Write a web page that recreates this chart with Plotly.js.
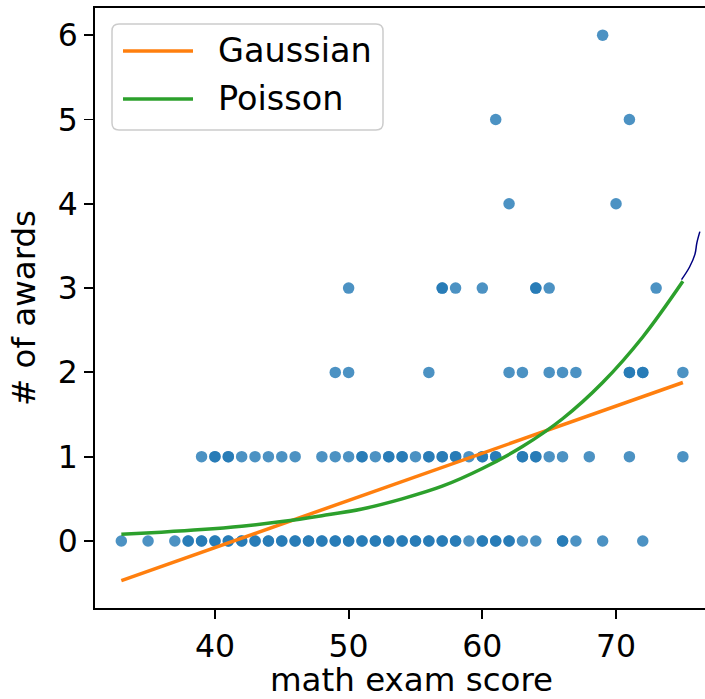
<!DOCTYPE html>
<html>
<head>
<meta charset="utf-8">
<script src="https://cdn.plot.ly/plotly-3.0.1.min.js"></script>
<style>
html, body { margin: 0; padding: 0; overflow: hidden; background: #fff; }
#chart { width: 740px; height: 699px; }
</style>
</head>
<body>
<div id="chart"></div>
<script>
// Scatter data: math exam score vs number of awards (duplicates = overlapping points)
const mathScore = [
  33, 35, 37, 38, 38, 39, 39, 40, 40, 41, 41, 42, 42, 43, 43, 44, 44, 45, 45, 46, 46, 47, 47, 48, 48,
  49, 49, 50, 50, 51, 51, 52, 52, 53, 53, 54, 54, 55, 55, 56, 56, 57, 57, 58, 58, 59, 60, 60, 61, 61,
  62, 62, 63, 64, 66, 66, 67, 69, 72,
  39, 40, 40, 41, 41, 42, 43, 44, 45, 46, 48, 49, 50, 51, 51, 52, 53, 53, 54, 54, 55, 56, 56, 57, 57,
  58, 58, 59, 60, 60, 61, 61, 63, 63, 64, 64, 65, 66, 68, 71, 75,
  49, 50, 56, 62, 63, 65, 66, 67, 71, 71, 72, 72, 75,
  50, 57, 57, 58, 60, 64, 64, 65, 73,
  62, 70,
  61, 71,
  69
];
const numAwards = [
  0, 0, 0, 0, 0, 0, 0, 0, 0, 0, 0, 0, 0, 0, 0, 0, 0, 0, 0, 0, 0, 0, 0, 0, 0,
  0, 0, 0, 0, 0, 0, 0, 0, 0, 0, 0, 0, 0, 0, 0, 0, 0, 0, 0, 0, 0, 0, 0, 0, 0,
  0, 0, 0, 0, 0, 0, 0, 0, 0,
  1, 1, 1, 1, 1, 1, 1, 1, 1, 1, 1, 1, 1, 1, 1, 1, 1, 1, 1, 1, 1, 1, 1, 1, 1,
  1, 1, 1, 1, 1, 1, 1, 1, 1, 1, 1, 1, 1, 1, 1, 1,
  2, 2, 2, 2, 2, 2, 2, 2, 2, 2, 2, 2, 2,
  3, 3, 3, 3, 3, 3, 3, 3, 3,
  4, 4,
  5, 5,
  6
];

// Gaussian (linear) fit, read at its ends
const gaussX = [33, 75];
const gaussY = [-0.47, 1.88];

// Poisson fit
const poisX = [33, 36, 39, 42, 45, 48, 51, 54, 57, 60, 63, 66, 69, 72, 75];
const poisY = [0.08, 0.105, 0.135, 0.175, 0.23, 0.30, 0.38, 0.50, 0.65, 0.86, 1.12, 1.45, 1.88, 2.42, 3.08];

// Thin navy stroke at the upper right
const navyX = [74.9, 75.5, 75.9, 76.05, 76.27];
const navyY = [3.10, 3.25, 3.40, 3.54, 3.67];

const xTicks = [40, 50, 60, 70];
const yTicks = [0, 1, 2, 3, 4, 5, 6];
const legendLabels = ['Gaussian', 'Poisson'];

// Geometry
const W = 740, H = 699;
const M = {l: 95, r: 12, t: 8, b: 91};
const PW = W - M.l - M.r, PH = H - M.t - M.b;
const px2x = p => (p - M.l) / PW;
const px2y = p => (H - M.b - p) / PH;

const FONT = 'DejaVu Sans, sans-serif';
const FS_TICK = 31.5;
const FS_LABEL = 32.5;
const FS_LEG = 33.5;

const traces = [
  {
    x: mathScore, y: numAwards, mode: 'markers', type: 'scatter',
    marker: {size: 11.5, color: 'rgba(31,119,180,0.8)', line: {width: 0}},
    showlegend: false, hoverinfo: 'skip'
  },
  {
    x: gaussX, y: gaussY, mode: 'lines', type: 'scatter', name: legendLabels[0],
    line: {color: '#ff7f0e', width: 3.5}, showlegend: false
  },
  {
    x: poisX, y: poisY, mode: 'lines', type: 'scatter', name: legendLabels[1],
    line: {color: '#2ca02c', width: 3.5, shape: 'spline'}, showlegend: false
  },
  {
    x: navyX, y: navyY, mode: 'lines', type: 'scatter',
    line: {color: '#000080', width: 1.5, shape: 'spline'}, showlegend: false
  }
];

// Custom legend box (rounded)
function roundedRect(x0, y0, x1, y1, r) {
  const X = p => px2x(p), Y = p => px2y(p);
  const rx = r / PW, ry = r / PH;
  const a = X(x0), b = X(x1), top = Y(y0), bot = Y(y1);
  return `M ${a + rx},${top} L ${b - rx},${top} Q ${b},${top} ${b},${top - ry} ` +
         `L ${b},${bot + ry} Q ${b},${bot} ${b - rx},${bot} L ${a + rx},${bot} ` +
         `Q ${a},${bot} ${a},${bot + ry} L ${a},${top - ry} Q ${a},${top} ${a + rx},${top} Z`;
}

const shapes = [
  {type: 'path', xref: 'paper', yref: 'paper', path: roundedRect(112, 24, 383, 130, 7),
   fillcolor: 'rgba(255,255,255,0.8)', line: {color: '#cccccc', width: 1.5}},
  {type: 'line', xref: 'paper', yref: 'paper', x0: px2x(123), x1: px2x(193), y0: px2y(51), y1: px2y(51),
   line: {color: '#ff7f0e', width: 3.5}},
  {type: 'line', xref: 'paper', yref: 'paper', x0: px2x(123), x1: px2x(193), y0: px2y(99), y1: px2y(99),
   line: {color: '#2ca02c', width: 3.5}}
];

const annotations = [
  {xref: 'paper', yref: 'paper', x: px2x(216), y: px2y(51), xanchor: 'left', yanchor: 'middle',
   text: legendLabels[0], showarrow: false, font: {family: FONT, size: FS_LEG, color: '#000'}},
  {xref: 'paper', yref: 'paper', x: px2x(216), y: px2y(99), xanchor: 'left', yanchor: 'middle',
   text: legendLabels[1], showarrow: false, font: {family: FONT, size: FS_LEG, color: '#000'}}
];

const layout = {
  width: W, height: H,
  margin: M,
  paper_bgcolor: '#fff', plot_bgcolor: '#fff',
  showlegend: false,
  font: {family: FONT, size: FS_TICK, color: '#000'},
  xaxis: {
    range: [31.03, 31.03 + PW / 13.37],
    tickvals: xTicks, ticktext: xTicks.map(String),
    ticks: 'outside', ticklen: 9, tickwidth: 1.8, tickcolor: '#000',
    showline: true, linecolor: '#000', linewidth: 1.8, mirror: true,
    showgrid: false, zeroline: false,
    tickfont: {family: FONT, size: FS_TICK, color: '#000'},
    title: {text: 'math exam score', font: {family: FONT, size: FS_LABEL, color: '#000'}, standoff: 13}
  },
  yaxis: {
    range: [-0.795, -0.795 + PH / 84.3],
    tickvals: yTicks, ticktext: yTicks.map(String),
    ticks: 'outside', ticklen: 9, tickwidth: 1.8, tickcolor: '#000',
    showline: true, linecolor: '#000', linewidth: 1.8, mirror: true,
    showgrid: false, zeroline: false,
    tickfont: {family: FONT, size: FS_TICK, color: '#000'},
    title: {text: '# of awards', font: {family: FONT, size: FS_LABEL, color: '#000'}, standoff: 12}
  },
  shapes: shapes,
  annotations: annotations
};

Plotly.newPlot('chart', traces, layout, {displayModeBar: false, staticPlot: true});
</script>
</body>
</html>
